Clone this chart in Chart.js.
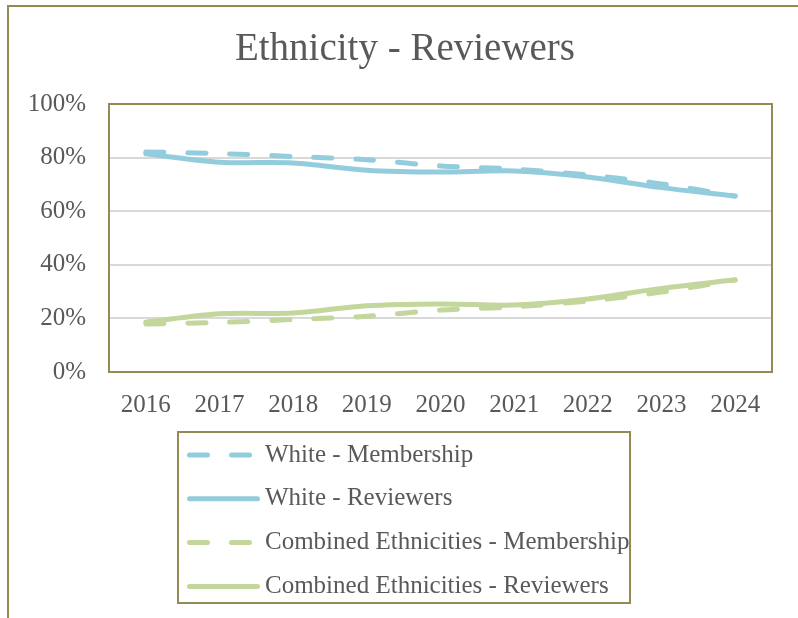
<!DOCTYPE html>
<html>
<head>
<meta charset="utf-8">
<script src="https://cdn.jsdelivr.net/npm/chart.js@4/dist/chart.umd.min.js"></script>
<style>
  html, body { margin: 0; padding: 0; background: #ffffff; }
  #wrap { position: relative; width: 798px; height: 618px; }
</style>
</head>
<body>
<div id="wrap"><canvas id="ethnicityChart" width="798" height="618"></canvas></div>
<script>
const years = ["2016", "2017", "2018", "2019", "2020", "2021", "2022", "2023", "2024"];
const whiteMembership = [82.1, 81.5, 80.4, 79.2, 76.9, 75.7, 73.5, 70.2, 65.7];
const whiteReviewers = [81.4, 78.3, 78.0, 75.3, 74.6, 75.0, 72.8, 68.8, 65.6];
const combinedMembership = [17.9, 18.5, 19.6, 20.8, 23.1, 24.3, 26.5, 29.8, 34.3];
const combinedReviewers = [18.6, 21.7, 22.0, 24.7, 25.4, 25.0, 27.2, 31.2, 34.4];
const yTicks = [0, 20, 40, 60, 80, 100];

const BLUE = "#93cddd";
const GREEN = "#c3d69b";
const OLIVE = "#948a54";
const TEXT = "#595959";
const FONT = "'Liberation Serif', 'Times New Roman', serif";

// white background, outer frame and plot frame
const frame = {
  id: "frame",
  beforeDraw(chart) {
    const ctx = chart.ctx;
    ctx.save();
    ctx.fillStyle = "#ffffff";
    ctx.fillRect(0, 0, chart.width, chart.height);
    ctx.strokeStyle = OLIVE;
    ctx.lineWidth = 2;
    ctx.strokeRect(8, 6, chart.width + 20, chart.height + 20);
    ctx.restore();
  },
  afterDraw(chart) {
    const { ctx, chartArea: a } = chart;
    ctx.save();
    ctx.strokeStyle = OLIVE;
    ctx.lineWidth = 2;
    ctx.strokeRect(a.left, a.top, a.right - a.left, a.bottom - a.top);
    ctx.restore();
  }
};

// boxed legend, one series per row
const boxLegend = {
  id: "boxLegend",
  afterDraw(chart) {
    const ctx = chart.ctx;
    const x = 178, y = 432, w = 452, h = 171;
    ctx.save();
    ctx.fillStyle = "#ffffff";
    ctx.fillRect(x, y, w, h);
    chart.data.datasets.forEach((ds, i) => {
      const cy = 455 + i * 43.8;
      ctx.beginPath();
      ctx.strokeStyle = ds.borderColor;
      ctx.lineWidth = ds.borderWidth;
      ctx.lineCap = "round";
      ctx.setLineDash(ds.borderDash || []);
      ctx.moveTo(189.5, cy);
      ctx.lineTo(257.5, cy);
      ctx.stroke();
      ctx.setLineDash([]);
      ctx.fillStyle = TEXT;
      ctx.font = "25px " + FONT;
      ctx.textBaseline = "middle";
      ctx.textAlign = "left";
      ctx.fillText(ds.label, 265, cy);
    });
    ctx.strokeStyle = OLIVE;
    ctx.lineWidth = 2;
    ctx.strokeRect(x, y, w, h);
    ctx.restore();
  }
};

function series(label, data, color, dashed) {
  return {
    label: label,
    data: data,
    borderColor: color,
    backgroundColor: color,
    borderWidth: 5,
    borderDash: dashed ? [18, 24] : [],
    borderCapStyle: "round",
    borderJoinStyle: "round",
    pointRadius: 0,
    tension: 0.3,
    fill: false
  };
}

new Chart(document.getElementById("ethnicityChart"), {
  type: "line",
  data: {
    labels: years,
    datasets: [
      series("White - Membership", whiteMembership, BLUE, true),
      series("White - Reviewers", whiteReviewers, BLUE, false),
      series("Combined Ethnicities - Membership", combinedMembership, GREEN, true),
      series("Combined Ethnicities - Reviewers", combinedReviewers, GREEN, false)
    ]
  },
  options: {
    responsive: false,
    animation: false,
    layout: {
      padding: { left: 38, right: 26, top: 0, bottom: 186 }
    },
    plugins: {
      legend: { display: false },
      tooltip: { enabled: false },
      title: {
        display: true,
        text: "Ethnicity - Reviewers",
        color: TEXT,
        font: { family: FONT, size: 39, weight: "normal", lineHeight: 1.2 },
        padding: { top: 26.6, bottom: 30.6 }
      }
    },
    scales: {
      x: {
        offset: true,
        grid: { display: false, drawTicks: false },
        border: { display: false },
        ticks: {
          color: TEXT,
          padding: 18,
          maxRotation: 0,
          font: { family: FONT, size: 25 }
        },
        afterFit(scale) { scale.height = 60; }
      },
      y: {
        min: 0,
        max: 100,
        afterBuildTicks(scale) { scale.ticks = yTicks.map(v => ({ value: v })); },
        grid: { color: "#d9d9d9", lineWidth: 2, drawTicks: false },
        border: { display: false },
        ticks: {
          color: TEXT,
          padding: 23,
          font: { family: FONT, size: 25 },
          callback: v => v + "%"
        },
        afterFit(scale) {
          scale.width = 71;
          // "100%" is wider than the axis box; don't clip the labels to it
          scale._computeLabelArea = () => null;
        }
      }
    }
  },
  plugins: [frame, boxLegend]
});
</script>
</body>
</html>
